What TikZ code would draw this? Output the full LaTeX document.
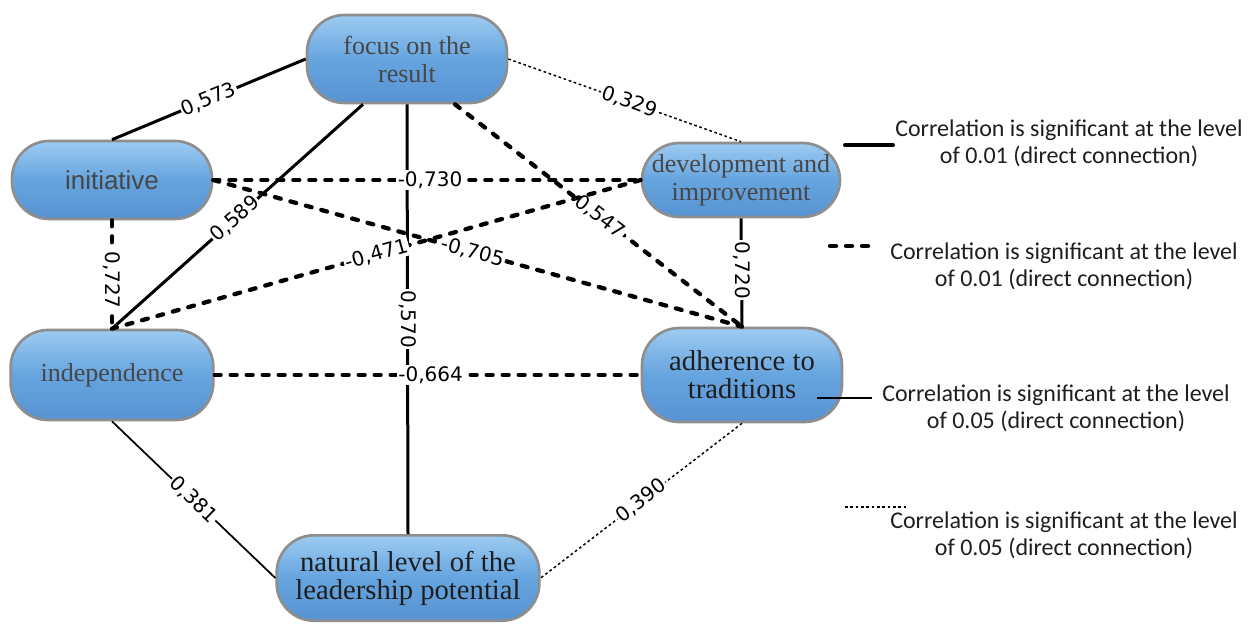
\documentclass[tikz,border=0pt]{standalone}
\usepackage{fontspec}
\setmainfont{Liberation Serif}
\newfontfamily\labfont{DejaVu Sans}
\newfontfamily\legfont{Carlito}
\newfontfamily\arialfont{Liberation Sans}
\definecolor{nodetop}{HTML}{9DCBF1}
\definecolor{nodemid}{HTML}{66A4DF}
\definecolor{nodebot}{HTML}{5793D2}
\definecolor{nodeborder}{HTML}{8E8E8E}
\definecolor{txtgray}{HTML}{474747}
\definecolor{txtdark}{HTML}{1E1E1E}
\tikzset{
  pill/.style={draw=nodeborder, line width=2pt, rounded corners=28pt,
    top color=nodetop, bottom color=nodebot, middle color=nodemid,
    align=center, inner sep=2pt},
  serifgray/.style={text=txtgray, font=\fontsize{19.5}{21}\selectfont},
  serifdark/.style={text=txtdark, font=\fontsize{21.5}{21}\selectfont},
  sansgray/.style={text=txtgray, font=\arialfont\fontsize{19.5}{21}\selectfont},
  strongsolid/.style={line width=2.25pt},
  strongdash/.style={line width=3.2pt, dash pattern=on 4.5pt off 7.5pt, line cap=round},
  weaksolid/.style={line width=1.3pt},
  weakdot/.style={line width=1.1pt, dash pattern=on 2pt off 2pt},
  lab/.style={fill=white, inner sep=1pt, text=black, font=\labfont\fontsize{15}{15}\selectfont},
  leg/.style={align=center, inner sep=0pt, text=txtdark, font=\legfont\fontsize{18}{20}\selectfont},
}
\begin{document}
\begin{tikzpicture}[x=0.75pt, y=-0.75pt]
\useasboundingbox (0,0) rectangle (1254,628);

% nodes
\node[pill, serifgray, minimum width=150pt, minimum height=66pt] (foc) at (407,59) {focus on the\\result};
\node[pill, sansgray, minimum width=150pt, minimum height=58.5pt] (ini) at (112,180) {initiative};
\node[pill, serifgray, minimum width=148.5pt, minimum height=55.5pt] (dev) at (741,180) {development and\\improvement};
\node[pill, serifgray, minimum width=152pt, minimum height=67.5pt] (ind) at (112,375) {independence};
\node[pill, serifdark, minimum width=150pt, minimum height=70.5pt] (adh) at (742,375) {adherence to\\traditions};
\node[pill, serifdark, minimum width=197pt, minimum height=64pt] (nat) at (408,578) {natural level of the\\leadership potential};

% connectors
\draw[strongsolid] (foc.west) -- node[lab, sloped, pos=.5] {0,573} (ini.north);
\draw[weakdot] (foc.east) -- node[lab, sloped, pos=.52] {0,329} (dev.north);
\draw[strongsolid] ([xshift=-33pt]foc.south) -- node[lab, sloped, pos=.51] {0,589} (ind.north);
\draw[strongsolid] (foc.south) -- node[lab, rotate=-90, pos=.5] {0,570} (nat.north);
\draw[strongdash] ([xshift=36pt]foc.south) -- node[lab, sloped, pos=.505] {0,547} (adh.north);
\draw[strongdash] (ini.east) -- node[lab, pos=.507] {-0,730} (dev.west);
\draw[strongdash] (ini.east) -- node[lab, sloped, pos=.49] {-0,705} (adh.north);
\draw[strongdash] (ini.south) -- node[lab, rotate=-90, pos=.55] {0,727} (ind.north);
\draw[strongdash] (dev.west) -- node[lab, sloped, pos=.5] {-0,471} (ind.north);
\draw[strongsolid] (dev.south) -- node[lab, rotate=-90, pos=.48] {0,720} (adh.north);
\draw[strongdash] (ind.east) -- node[lab, pos=.507] {-0,664} (adh.west);
\draw[weaksolid] (ind.south) -- node[lab, sloped, pos=.5] {0,381} (nat.west);
\draw[weakdot] (adh.south) -- node[lab, sloped, pos=.5] {0,390} (nat.east);

% legend
\coordinate (l1a) at (845,145); \coordinate (l1b) at (893,145);
\coordinate (l2a) at (830,246); \coordinate (l2b) at (870,246);
\coordinate (l3a) at (817,398); \coordinate (l3b) at (872,398);
\coordinate (l4a) at (845,507); \coordinate (l4b) at (908,507);
\draw[line width=3pt, line cap=round] (l1a) -- (l1b);
\draw[strongdash] (l2a) -- (l2b);
\draw[weaksolid] (l3a) -- (l3b);
\draw[weakdot] (l4a) -- (l4b);
\node[leg] (t1) at (1069,143) {Correlation is significant at the level\\of 0.01 (direct connection)};
\node[leg] (t2) at (1064,266) {Correlation is significant at the level\\of 0.01 (direct connection)};
\node[leg] (t3) at (1056,408) {Correlation is significant at the level\\of 0.05 (direct connection)};
\node[leg] (t4) at (1064,535) {Correlation is significant at the level\\of 0.05 (direct connection)};
\end{tikzpicture}
\end{document}
